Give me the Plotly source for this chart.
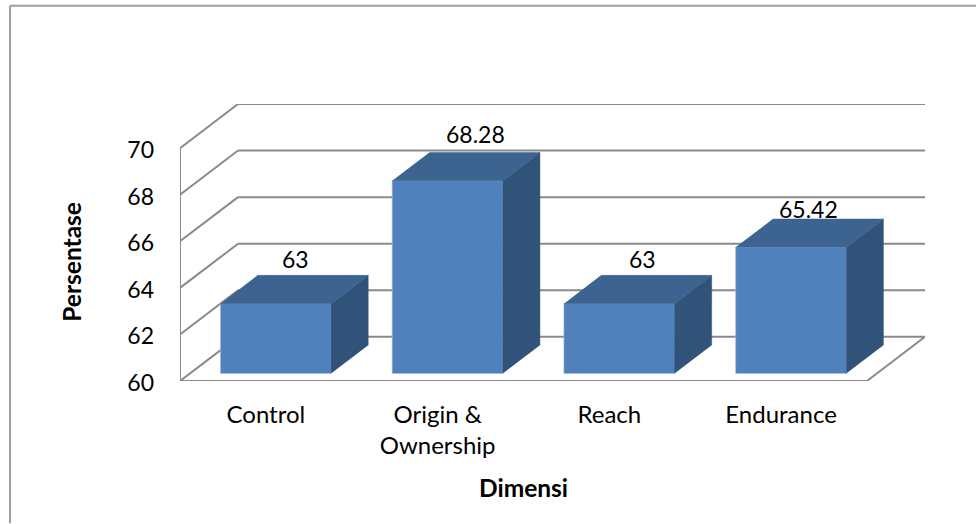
import plotly.graph_objects as go

# Survey results per dimension
categories = ["Control", "Origin &<br>Ownership", "Reach", "Endurance"]
values = [63, 68.28, 63, 65.42]
y_ticks = [60, 62, 64, 66, 68, 70]
label_lift_px = [31, 33, 31, 24]
label_nudge_px = [1, 9, 4.5, -1]

WIDTH, HEIGHT = 976, 524
LEFT, RIGHT, TOP, BOTTOM = 180, 51, 104, 142.5

# Oblique projection: depth 0 is the front of the floor, depth 1 the back wall
DEPTH_X = 0.338
DEPTH_Y = 1.897
BAR_WIDTH = 0.644
BAR_NEAR = 0.17
BAR_FAR = 0.81
BASE = 60

GRID = "#8A8A8A"
FRONT = "#4F81BD"
TOP_FACE = "#3D6390"
SIDE_FACE = "#325379"
FONT = "Lato"


def project(x, y, depth):
    return x + depth * DEPTH_X, y + depth * DEPTH_Y


x_lo, x_hi = -0.5, len(categories) - 0.5
positions = list(range(len(categories)))
fig = go.Figure()


def wall_line(p, q):
    fig.add_shape(type="line", x0=p[0], y0=p[1], x1=q[0], y1=q[1], layer="below",
                  line=dict(color=GRID, width=2))


# Walls and floor
wall_line(project(x_lo, BASE, 0), project(x_lo, y_ticks[-1], 0))
wall_line(project(x_lo, BASE, 0), project(x_hi, BASE, 0))
wall_line(project(x_hi, BASE, 0), project(x_hi, BASE, 1))
for t in y_ticks:
    wall_line(project(x_lo, t, 0), project(x_lo, t, 1))
    wall_line(project(x_lo, t, 1), project(x_hi, t, 1))

# Front faces of the bars
near_x, near_base = project(0, BASE, BAR_NEAR)
fig.add_trace(go.Bar(
    x=[p + near_x for p in positions],
    y=[v - BASE for v in values],
    base=near_base,
    width=BAR_WIDTH,
    marker=dict(color=FRONT, line=dict(color="#A9C0DE", width=0.6)),
    hoverinfo="skip",
))

# Top and side faces of the bars
half = BAR_WIDTH / 2
for p, v in zip(positions, values):
    l, r = p - half, p + half
    top = [project(l, v, BAR_NEAR), project(r, v, BAR_NEAR), project(r, v, BAR_FAR), project(l, v, BAR_FAR)]
    side = [project(r, BASE, BAR_NEAR), project(r, v, BAR_NEAR), project(r, v, BAR_FAR), project(r, BASE, BAR_FAR)]
    for poly, colour in ((side, SIDE_FACE), (top, TOP_FACE)):
        fig.add_trace(go.Scatter(
            x=[c[0] for c in poly], y=[c[1] for c in poly],
            mode="lines", fill="toself", fillcolor=colour,
            line=dict(color=colour, width=0.5), hoverinfo="skip",
        ))

# Value labels above the middle of each bar
for p, v, lift, nudge in zip(positions, values, label_lift_px, label_nudge_px):
    mx, my = project(p, v, (BAR_NEAR + BAR_FAR) / 2)
    fig.add_annotation(x=mx, y=my, text=f"{v:g}", showarrow=False, yshift=lift, xshift=nudge,
                       font=dict(family=FONT, size=23, color="#000000"))


def paper_x(px):
    return (px - LEFT) / (WIDTH - LEFT - RIGHT)


def paper_y(px):
    return 1 - (px - TOP) / (HEIGHT - TOP - BOTTOM)


# Axis titles
title_font = dict(family=FONT, size=24.5, color="#000000")
fig.add_annotation(xref="paper", yref="paper", x=paper_x(523), y=paper_y(488), text="<b>Dimensi</b>",
                   xanchor="center", yanchor="middle", showarrow=False, font=title_font)
fig.add_annotation(xref="paper", yref="paper", x=paper_x(72), y=paper_y(262), text="<b>Persentase</b>",
                   xanchor="center", yanchor="middle", textangle=-90, showarrow=False, font=title_font)

# Chart frame, visible along the top and left edges
border = dict(color="#A0A0A0", width=2)
fig.add_shape(type="line", xref="paper", yref="paper", x0=paper_x(10), x1=paper_x(WIDTH),
              y0=paper_y(5.5), y1=paper_y(5.5), line=border)
fig.add_shape(type="line", xref="paper", yref="paper", x0=paper_x(10), x1=paper_x(10),
              y0=paper_y(5.5), y1=paper_y(HEIGHT), line=border)

fig.update_layout(
    width=WIDTH, height=HEIGHT,
    margin=dict(l=LEFT, r=RIGHT, t=TOP, b=BOTTOM, pad=0),
    paper_bgcolor="white", plot_bgcolor="white",
    showlegend=False,
    font=dict(family=FONT, size=24, color="#000000"),
    xaxis=dict(
        range=[x_lo, x_hi + DEPTH_X], tickmode="array", tickvals=positions, ticktext=categories,
        showgrid=False, zeroline=False, showline=False, ticks="", ticklabelstandoff=17,
        tickangle=0, fixedrange=True,
    ),
    yaxis=dict(
        range=[BASE, y_ticks[-1] + DEPTH_Y], tickmode="array", tickvals=y_ticks,
        showgrid=False, zeroline=False, showline=False, ticks="", ticklabelstandoff=25,
        ticklabelshift=2, tickfont=dict(family=FONT, size=23), fixedrange=True,
    ),
)

fig.write_html("out.html", config=dict(displayModeBar=False))
